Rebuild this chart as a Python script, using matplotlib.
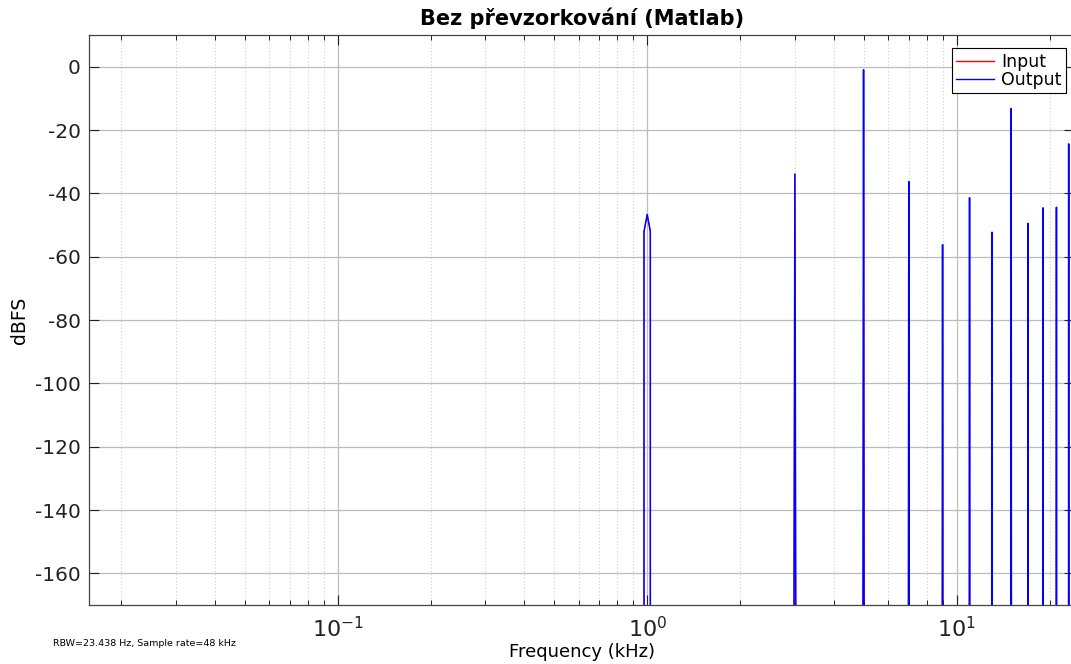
import numpy as np
import matplotlib
matplotlib.use("Agg")
import matplotlib.pyplot as plt
from matplotlib.ticker import LogLocator, NullFormatter, FixedLocator

# ---- data ----
harmonic_khz = [1, 3, 5, 7, 9, 11, 13, 15, 17, 19, 21, 23]
peak_dbfs = [-46.7, -33.9, -1.0, -36.3, -56.2, -41.4, -52.3, -13.2, -49.5, -44.6, -44.4, -24.4]
shoulder_dbfs = [-52.0, -200, -200, -200, -200, -200, -200, -200, -200, -200, -200, -200]
floor_dbfs = -200.0
bin_khz = 0.0234375
y_ticks = [0, -20, -40, -60, -80, -100, -120, -140, -160]
title = "Bez převzorkování (Matlab)"
note = "RBW=23.438 Hz, Sample rate=48 kHz"

# build spectrum line from peak list
f_pts, y_pts = [], []
for f, p, s in zip(harmonic_khz, peak_dbfs, shoulder_dbfs):
    f_pts += [f - bin_khz, f - bin_khz, f, f + bin_khz, f + bin_khz]
    y_pts += [floor_dbfs, s, p, s, floor_dbfs]
f_pts = np.array(f_pts)
y_pts = np.array(y_pts)

plt.rcParams['font.family'] = ['DejaVu Sans']
fig = plt.figure(figsize=(10.71, 6.64), dpi=100)
ax = fig.add_axes([89/1071, 59/664, 985.4/1071, (605-35)/664])

ax.plot(f_pts, y_pts, color='red', lw=0.7, label='Input')
ax.plot(f_pts, y_pts, color='blue', lw=1.1, label='Output')

ax.set_xscale('log')
ax.set_xlim(0.01572, 24)
ax.set_ylim(-170, 10)
ax.set_yticks(y_ticks)
ax.set_yticklabels([str(v) for v in y_ticks])
ax.xaxis.set_major_locator(FixedLocator([0.1, 1, 10]))
ax.xaxis.set_minor_locator(LogLocator(base=10, subs=np.arange(2, 10)))
ax.xaxis.set_minor_formatter(NullFormatter())

ax.grid(True, which='major', color='#bdbdbd', lw=0.9, ls='-')
ax.grid(True, which='minor', axis='x', color='#d0d0d0', lw=0.8, ls=(0, (1, 2)))
ax.set_axisbelow(True)

ax.tick_params(which='both', direction='in', top=True, right=True, labelsize=14.5, colors='#222222')
ax.tick_params(which='major', length=7.5, width=0.8, pad=6)
ax.tick_params(axis='x', which='major', pad=8, labelsize=16)
ax.tick_params(which='minor', length=3.6, width=0.7)
for sp in ax.spines.values():
    sp.set_color('#444444')
    sp.set_linewidth(0.9)

ax.set_xlabel('Frequency (kHz)', fontsize=13, labelpad=1)
ax.set_ylabel('dBFS', fontsize=13.5, labelpad=4)
ax.set_title(title, fontsize=15, fontweight='bold', pad=7)

leg = ax.legend(loc='upper right', fontsize=12.5,
                frameon=True, fancybox=False, edgecolor='black', framealpha=1,
                borderpad=0.25, labelspacing=0.0, handlelength=2.2, handletextpad=0.4,
                borderaxespad=0)
leg.set_bbox_to_anchor((1066/1071, 1 - 48.3/664), transform=fig.transFigure)
leg.get_frame().set_linewidth(0.8)
for ln in leg.get_lines():
    ln.set_linewidth(1.0)

fig.text(53/1071, 1 - 644/664, note, fontsize=6.8, va='center', ha='left')

fig.savefig('out.png', dpi=100)
